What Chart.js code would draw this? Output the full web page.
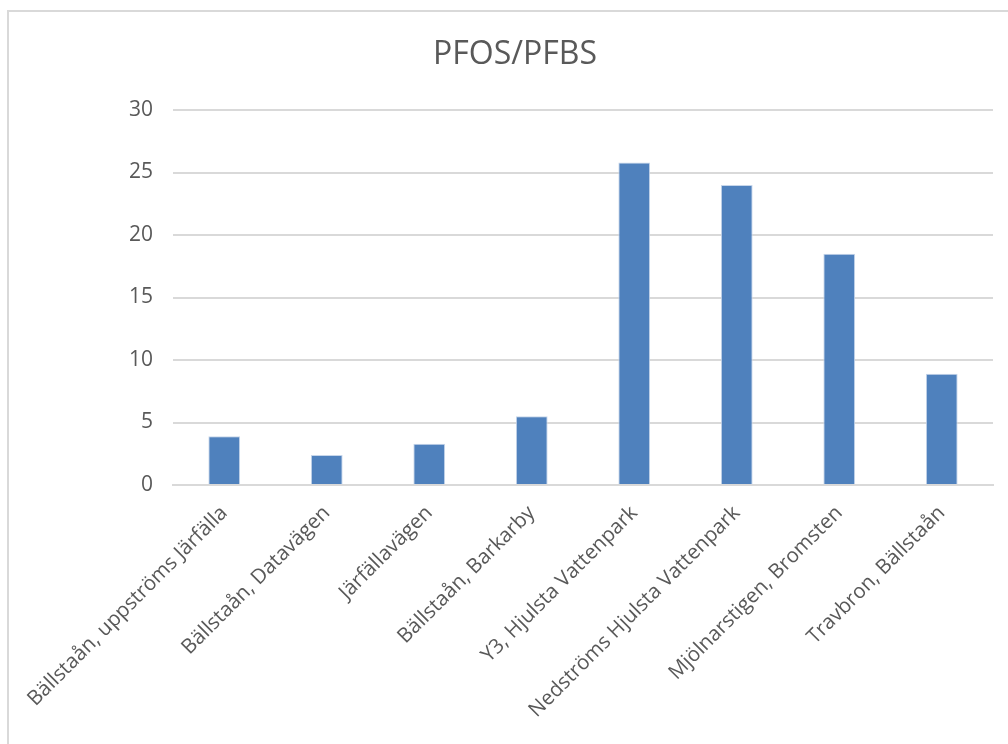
<!DOCTYPE html>
<html>
<head>
<meta charset="utf-8">
<script src="https://cdn.jsdelivr.net/npm/chart.js@4"></script>
<style>
  html, body { margin: 0; padding: 0; background: #fff; }
  #wrap { position: relative; width: 1008px; height: 744px; overflow: hidden; }
  #frame { position: absolute; left: 7px; top: 10px; width: 1100px; height: 800px;
           border-left: 2px solid #D9D9D9; border-top: 2px solid #D9D9D9; }
  canvas { position: absolute; left: 0; top: 0; }
</style>
</head>
<body>
<div id="wrap">
  <div id="frame"></div>
  <canvas id="pfos-pfbs" width="1008" height="744"></canvas>
</div>
<script>
const labels = ['Bällstaån, uppströms Järfälla', 'Bällstaån, Datavägen', 'Järfällavägen', 'Bällstaån, Barkarby',
  'Y3, Hjulsta Vattenpark', 'Nedströms Hjulsta Vattenpark', 'Mjölnarstigen, Bromsten', 'Travbron, Bällstaån'];
const ratio = [3.9, 2.4, 3.3, 5.5, 25.8, 24.0, 18.5, 8.9];
const yTicks = [0, 5, 10, 15, 20, 25, 30];

const ctx = document.getElementById('pfos-pfbs');
const textColor = '#595959';
const gridColor = '#D9D9D9';

new Chart(ctx, {
  type: 'bar',
  data: {
    labels: labels,
    datasets: [{
      data: ratio,
      backgroundColor: '#4F81BD',
      borderColor: '#C7D6EA',
      borderWidth: 1,
      barPercentage: 0.31,
      categoryPercentage: 1
    }]
  },
  options: {
    responsive: false,
    animation: false,
    layout: { padding: { left: 37, right: 15, top: 36, bottom: 0 } },
    scales: {
      x: {
        grid: { display: false },
        border: { color: gridColor, width: 2 },
        ticks: {
          color: textColor,
          font: { family: 'Open Sans', size: 20.5 },
          minRotation: 45,
          maxRotation: 45,
          padding: 8
        },
        afterFit: (s) => { s.height = 259; }
      },
      y: {
        min: 0,
        max: 30,
        afterBuildTicks: (s) => { s.ticks = yTicks.map(v => ({ value: v })); },
        grid: { color: gridColor, lineWidth: 2, drawTicks: false },
        border: { display: false },
        ticks: {
          color: textColor,
          font: { family: 'Open Sans', size: 21 },
          padding: 20
        },
        afterFit: (s) => { s.width = 136; }
      }
    },
    plugins: {
      legend: { display: false },
      tooltip: { enabled: false },
      title: {
        display: true,
        text: 'PFOS/PFBS',
        color: textColor,
        font: { family: 'Open Sans', size: 32, weight: 'normal' },
        padding: { top: 0, bottom: 35.6 }
      }
    }
  }
});
</script>
</body>
</html>
